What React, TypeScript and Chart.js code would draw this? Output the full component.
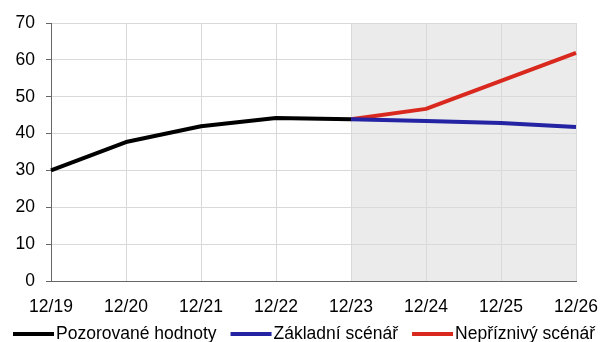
import React, { useEffect, useRef } from "react";
import { Chart, registerables } from "chart.js";

Chart.register(...registerables);

const categories = ["12/19", "12/20", "12/21", "12/22", "12/23", "12/24", "12/25", "12/26"];
const observed = [30.0, 37.7, 42.0, 44.2, 43.9, null, null, null];
const baseline = [null, null, null, null, 43.9, 43.4, 42.9, 41.8];
const adverse = [null, null, null, null, 43.9, 46.7, 54.3, 61.9];
const seriesNames = ["Pozorované hodnoty", "Základní scénář", "Nepříznivý scénář"];
const seriesColors = ["#000000", "#2323a3", "#d9291f"];
const forecastStart = "12/23";

const FONT = '"Liberation Sans", Arial, sans-serif';
const FONT_SIZE = 17.5;

// Grey band behind the projection years
const shadePlugin = {
  id: "forecastShade",
  beforeDraw(chart: any) {
    const { ctx, chartArea, scales } = chart;
    const x0 = scales.x.getPixelForValue(categories.indexOf(forecastStart));
    ctx.save();
    ctx.fillStyle = "#ebebeb";
    ctx.fillRect(x0, chartArea.top, chartArea.right - x0 + 1, chartArea.bottom - chartArea.top);
    ctx.restore();
  },
};

// Single-row legend under the x axis
const legendPlugin = {
  id: "bottomLegend",
  afterDraw(chart: any) {
    const { ctx } = chart;
    const y = 334;
    let x = 13;
    ctx.save();
    ctx.font = `${FONT_SIZE}px ${FONT}`;
    ctx.textBaseline = "middle";
    seriesNames.forEach((name, i) => {
      ctx.strokeStyle = seriesColors[i];
      ctx.lineWidth = 4;
      ctx.beginPath();
      ctx.moveTo(x, y);
      ctx.lineTo(x + 41, y);
      ctx.stroke();
      x += 43;
      ctx.fillStyle = "#000000";
      ctx.fillText(name, x, y);
      x += ctx.measureText(name).width + 14;
    });
    ctx.restore();
  },
};

export default function App() {
  const ref = useRef<HTMLCanvasElement>(null);

  useEffect(() => {
    if (!ref.current) return;
    const mk = (data: (number | null)[], i: number) => ({
      label: seriesNames[i],
      data,
      borderColor: seriesColors[i],
      backgroundColor: seriesColors[i],
      borderWidth: 4,
      pointRadius: 0,
      tension: 0,
      spanGaps: false,
      borderJoinStyle: "round" as const,
    });
    const chart = new Chart(ref.current, {
      type: "line",
      data: {
        labels: categories,
        datasets: [mk(observed, 0), mk(baseline, 1), mk(adverse, 2)],
      },
      options: {
        animation: false,
        responsive: false,
        maintainAspectRatio: false,
        layout: { padding: { top: 23, right: 30, left: 0, bottom: 0 } },
        plugins: { legend: { display: false }, tooltip: { enabled: false } },
        scales: {
          x: {
            offset: false,
            grid: { color: "#d9d9d9", drawTicks: false },
            border: { color: "#666666", width: 1 },
            ticks: { color: "#000000", font: { family: FONT, size: FONT_SIZE }, padding: 16, maxRotation: 0, autoSkip: false },
            afterFit: (s: any) => {
              s.height = 61;
              s.paddingLeft = 0;
              s.paddingRight = 0;
            },
          },
          y: {
            min: 0,
            max: 70,
            grid: { color: "#d9d9d9", tickColor: "#666666", tickLength: 5 },
            border: { color: "#666666", width: 1 },
            ticks: { stepSize: 10, color: "#000000", font: { family: FONT, size: FONT_SIZE }, padding: 11 },
            afterFit: (s: any) => {
              s.width = 51;
            },
          },
        },
      },
      plugins: [shadePlugin, legendPlugin],
    });
    return () => chart.destroy();
  }, []);

  return (
    <div style={{ position: "absolute", left: 0, top: 0, width: 606, height: 342 }}>
      <canvas ref={ref} width={606} height={342} style={{ display: "block" }} />
    </div>
  );
}
